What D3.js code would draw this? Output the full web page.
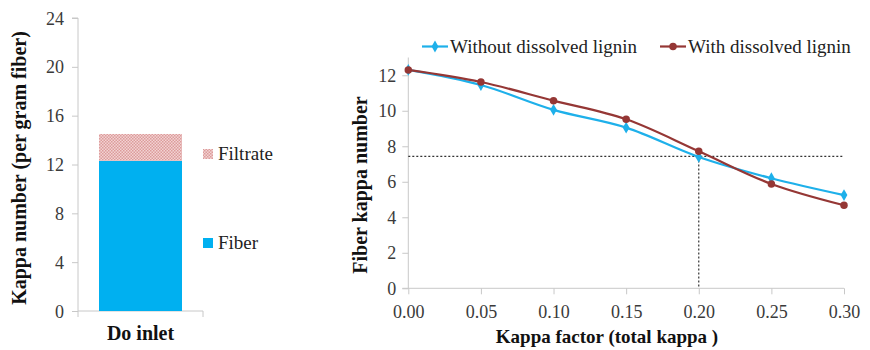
<!DOCTYPE html>
<html>
<head>
<meta charset="utf-8">
<script src="https://cdn.jsdelivr.net/npm/d3@7"></script>
<style>
  html, body { margin: 0; padding: 0; background: #fff; }
  svg { display: block; }
</style>
</head>
<body>
<svg id="chart" width="870" height="350"></svg>
<script>
// Stacked bar: kappa number at the Do inlet
const barCategories = ["Do inlet"];
const fiberValues = [12.3];
const filtrateValues = [2.2];
const barTicks = [0, 4, 8, 12, 16, 20, 24];

// Line chart: fiber kappa number versus kappa factor
const kappaFactors = [0.00, 0.05, 0.10, 0.15, 0.20, 0.25, 0.30];
const withoutLignin = [12.3, 11.45, 10.05, 9.05, 7.4, 6.2, 5.25];
const withLignin = [12.3, 11.62, 10.57, 9.52, 7.72, 5.88, 4.68];
const lineYTicks = [0, 2, 4, 6, 8, 10, 12];
const lineXTicks = [0.00, 0.05, 0.10, 0.15, 0.20, 0.25, 0.30];
const refFactor = 0.20;
const refKappa = 7.43;

const FONT = "Liberation Serif";
const TICK_SIZE = "18px";
const LABEL_SIZE = "19px";
const svg = d3.select("#chart");
const axisColor = "#c8c8c8";
const textColor = "#3a3a3a";
const fiberColor = "#00b0f0";
const blueLine = "#1eb0ea";
const redLine = "#953735";

// hatched fill for the filtrate segment
const defs = svg.append("defs");
const pat = defs.append("pattern")
  .attr("id", "hatch").attr("width", 3).attr("height", 3)
  .attr("patternUnits", "userSpaceOnUse");
pat.append("rect").attr("width", 3).attr("height", 3).attr("fill", "#f3d3d3");
pat.append("rect").attr("x", 0).attr("y", 0).attr("width", 1.5).attr("height", 1.5).attr("fill", "#dc9c9b");
pat.append("rect").attr("x", 1.5).attr("y", 1.5).attr("width", 1.5).attr("height", 1.5).attr("fill", "#dc9c9b");

// ---------- left: stacked bar ----------
const by = d3.scaleLinear().domain([0, 24]).range([311, 18]);
const bx = d3.scaleBand().domain(barCategories).range([78, 203]).paddingInner(0).paddingOuter(0.253);

const left = svg.append("g");
const yAxisL = d3.axisLeft(by).tickValues(barTicks).tickSize(6).tickPadding(8).tickFormat(d3.format("d"));
const gyl = left.append("g").attr("transform", "translate(78,0)").call(yAxisL);
gyl.select(".domain").attr("stroke", axisColor).attr("d", `M-6,${by(24)}H0V${by(0)}`);
gyl.selectAll(".tick line").attr("stroke", axisColor);
gyl.selectAll(".tick text").attr("fill", textColor).style("font-size", TICK_SIZE).attr("dy", "0.34em");

// category axis
left.append("line").attr("x1", 78).attr("x2", 203).attr("y1", by(0)).attr("y2", by(0)).attr("stroke", axisColor);
[78, 203].forEach(x => left.append("line").attr("x1", x).attr("x2", x)
  .attr("y1", by(0)).attr("y2", by(0) + 6).attr("stroke", axisColor));

barCategories.forEach((c, i) => {
  const x = bx(c), w = bx.bandwidth();
  left.append("rect").attr("x", x).attr("width", w)
    .attr("y", by(fiberValues[i])).attr("height", by(0) - by(fiberValues[i]))
    .attr("fill", fiberColor);
  left.append("rect").attr("x", x).attr("width", w)
    .attr("y", by(fiberValues[i] + filtrateValues[i]))
    .attr("height", by(fiberValues[i]) - by(fiberValues[i] + filtrateValues[i]))
    .attr("fill", "url(#hatch)");
  left.append("text").attr("x", x + w / 2).attr("y", 340)
    .attr("text-anchor", "middle").attr("font-weight", "bold")
    .style("font-size", "20px").attr("fill", "#111").text(c);
});

// legend
const legL = [
  { label: "Filtrate", fill: "url(#hatch)", y: 154 },
  { label: "Fiber", fill: fiberColor, y: 243 }
];
legL.forEach(d => {
  left.append("rect").attr("x", 203).attr("y", d.y - 5).attr("width", 10).attr("height", 10).attr("fill", d.fill);
  left.append("text").attr("x", 218).attr("y", d.y).attr("dy", "0.34em")
    .style("font-size", LABEL_SIZE).attr("fill", "#222").text(d.label);
});

left.append("text")
  .attr("transform", "translate(19,168) rotate(-90)")
  .attr("text-anchor", "middle").attr("dy", "0.34em")
  .attr("font-weight", "bold").style("font-size", "20px").attr("fill", "#111")
  .text("Kappa number (per gram fiber)");

// ---------- right: line chart ----------
const lx = d3.scaleLinear().domain([0, 0.30]).range([408.3, 844]);
const ly = d3.scaleLinear().domain([0, 13]).range([288.3, 57.5]);
const right = svg.append("g");

const yAxisR = d3.axisLeft(ly).tickValues(lineYTicks).tickSize(6).tickPadding(6).tickFormat(d3.format("d"));
const gyr = right.append("g").attr("transform", "translate(408.3,0)").call(yAxisR);
gyr.select(".domain").attr("stroke", axisColor).attr("d", `M0,${ly(13)}V${ly(0)}`);
gyr.selectAll(".tick line").attr("stroke", axisColor);
gyr.selectAll(".tick text").attr("fill", textColor).style("font-size", TICK_SIZE).attr("dy", "0.34em");

const xAxisR = d3.axisBottom(lx).tickValues(lineXTicks).tickSize(6).tickFormat(d3.format(".2f"));
const gxr = right.append("g").attr("transform", `translate(0,${ly(0)})`).call(xAxisR);
gxr.select(".domain").attr("stroke", axisColor).attr("d", `M${lx(0) - 6},0H${lx(0.30)}`);
gxr.selectAll(".tick line").attr("stroke", axisColor);
gxr.selectAll(".tick text").attr("fill", textColor).style("font-size", TICK_SIZE)
  .attr("y", 29.5).attr("dy", 0);

// reference lines
right.append("line")
  .attr("x1", lx(0)).attr("x2", lx(0.30)).attr("y1", ly(refKappa)).attr("y2", ly(refKappa))
  .attr("stroke", "#333").attr("stroke-width", 1.2).attr("stroke-dasharray", "2,2");
right.append("line")
  .attr("x1", lx(refFactor)).attr("x2", lx(refFactor)).attr("y1", ly(refKappa)).attr("y2", ly(0))
  .attr("stroke", "#333").attr("stroke-width", 1.2).attr("stroke-dasharray", "2,2");

const line = d3.line().curve(d3.curveCatmullRom.alpha(0.5))
  .x(d => lx(d[0])).y(d => ly(d[1]));

const series = [
  { name: "Without dissolved lignin", values: withoutLignin, color: blueLine, marker: "diamond" },
  { name: "With dissolved lignin", values: withLignin, color: redLine, marker: "circle" }
];

series.forEach(s => {
  const pts = kappaFactors.map((k, i) => [k, s.values[i]]);
  right.append("path").datum(pts).attr("d", line)
    .attr("fill", "none").attr("stroke", s.color).attr("stroke-width", 2.2);
  const sym = d3.symbol().type(s.marker === "diamond" ? d3.symbolDiamond : d3.symbolCircle)
    .size(s.marker === "diamond" ? 40 : 44);
  right.selectAll(null).data(pts).enter().append("path")
    .attr("transform", d => `translate(${lx(d[0])},${ly(d[1])})`)
    .attr("d", sym).attr("fill", s.color);
});

// legend
const legR = [
  { s: series[0], x: 422 },
  { s: series[1], x: 660 }
];
legR.forEach(d => {
  const y = 46.5;
  right.append("line").attr("x1", d.x).attr("x2", d.x + 26).attr("y1", y).attr("y2", y)
    .attr("stroke", d.s.color).attr("stroke-width", 2.2);
  const sym = d3.symbol().type(d.s.marker === "diamond" ? d3.symbolDiamond : d3.symbolCircle)
    .size(d.s.marker === "diamond" ? 40 : 44);
  right.append("path").attr("transform", `translate(${d.x + 13},${y})`).attr("d", sym).attr("fill", d.s.color);
  right.append("text").attr("x", d.x + 28).attr("y", y).attr("dy", "0.34em")
    .style("font-size", LABEL_SIZE).attr("fill", "#222").text(d.s.name);
});

right.append("text").attr("x", 607).attr("y", 337).attr("dy", "0.34em")
  .attr("text-anchor", "middle").attr("font-weight", "bold").style("font-size", LABEL_SIZE).attr("fill", "#111")
  .text("Kappa factor (total kappa )");

right.append("text")
  .attr("transform", "translate(360,185) rotate(-90)")
  .attr("text-anchor", "middle").attr("dy", "0.34em")
  .attr("font-weight", "bold").style("font-size", "20px").attr("fill", "#111")
  .text("Fiber kappa number");

// one serif face for every label, including the axis tick text
svg.selectAll("text").style("font-family", FONT);
</script>
</body>
</html>
